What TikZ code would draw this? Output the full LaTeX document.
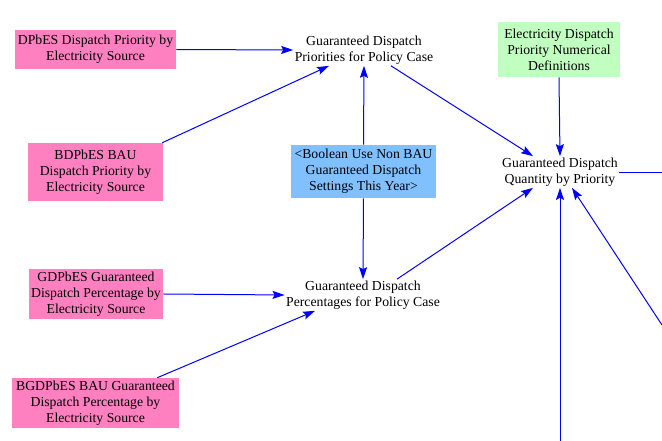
\documentclass[tikz,border=0pt]{standalone}
\usepackage{fontspec}
\setmainfont{Liberation Serif}
\usetikzlibrary{arrows.meta,calc}
\definecolor{pinkbox}{HTML}{FF80C0}
\definecolor{bluebox}{HTML}{80C0FF}
\definecolor{greenbox}{HTML}{C0FFC0}
\definecolor{arrowblue}{RGB}{0,0,255}
\tikzset{
  every node/.style={font=\fontsize{10.3}{12}\selectfont, align=center},
  pinknode/.style={fill=pinkbox, inner sep=0pt},
  bluenode/.style={fill=bluebox, inner sep=0pt},
  greennode/.style={fill=greenbox, inner sep=0pt},
  varnode/.style={inner sep=1pt},
  link/.style={color=arrowblue, line width=0.75pt},
  arr/.style={link, -{Stealth[length=9pt,width=6pt,inset=1.5pt]}}
}
\begin{document}
\begin{tikzpicture}[x=0.75pt,y=-0.75pt]
\useasboundingbox (0,0) rectangle (662,441);
% boxes
\node[pinknode, minimum width=161*0.75pt, minimum height=39*0.75pt] (p1) at (95.5,49.5) {DPbES Dispatch Priority by\\Electricity Source};
\node[pinknode, minimum width=135*0.75pt, minimum height=58*0.75pt] (p2) at (95.5,172) {BDPbES BAU\\Dispatch Priority by\\Electricity Source};
\node[pinknode, minimum width=134*0.75pt, minimum height=50*0.75pt] (p3) at (96,294) {GDPbES Guaranteed\\Dispatch Percentage by\\Electricity Source};
\node[pinknode, minimum width=167*0.75pt, minimum height=50*0.75pt] (p4) at (95.5,403) {BGDPbES BAU Guaranteed\\Dispatch Percentage by\\Electricity Source};
\node[bluenode, minimum width=145*0.75pt, minimum height=53*0.75pt] (blue) at (363.5,171.5) {<Boolean Use Non BAU\\Guaranteed Dispatch\\Settings This Year>};
\node[greennode, minimum width=122*0.75pt, minimum height=55*0.75pt] (green) at (559,49.5) {Electricity Dispatch\\Priority Numerical\\Definitions};
% variables
\node[varnode] (prio) at (364,50) {Guaranteed Dispatch\\Priorities for Policy Case};
\node[varnode] (perc) at (363,295) {Guaranteed Dispatch\\Percentages for Policy Case};
\node[varnode] (qty) at (560,172) {Guaranteed Dispatch\\Quantity by Priority};
% free ends
\coordinate (bot) at (560,441);
\coordinate (rgt) at (662,325);
\coordinate (rout) at (662,172.5);
% connectors
\draw[arr] (p1.east) -- (prio.west);
\draw[arr] ($(p2.north east)+(-1,0)$) -- ($(prio.south)+(-35,0)$);
\draw[arr] (blue.north) -- (prio.south);
\draw[arr] (blue.south) -- (perc.north);
\draw[arr] (p3.east) -- (perc.west);
\draw[arr] ($(p4.north east)+(-22,0)$) -- ($(perc.south)+(-48,0)$);
\draw[arr] ($(prio.south)+(27,0)$) -- ($(qty.north)+(-27,0)$);
\draw[arr] (green.south) -- (qty.north);
\draw[arr] ($(perc.north)+(34,0)$) -- ($(qty.south)+(-27,0)$);
\draw[arr] (bot) -- (qty.south);
\draw[arr] (rgt) -- ($(qty.south)+(12,0)$);
\draw[link] ($(qty.east)+(0,0.5)$) -- (rout);
\end{tikzpicture}
\end{document}
